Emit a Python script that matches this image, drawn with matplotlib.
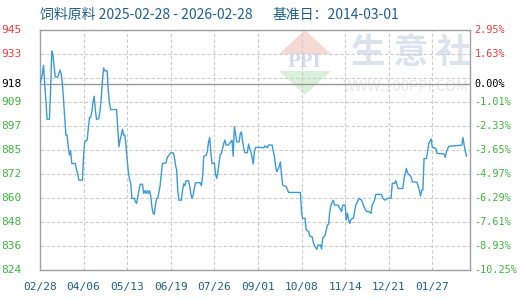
import numpy as np
import matplotlib
matplotlib.use('Agg')
import matplotlib.pyplot as plt
from matplotlib.patches import Polygon

plt.rcParams['font.family'] = ['Noto Sans CJK SC', 'DejaVu Sans']

# 天数 (自 2025-02-28 起) 与价格
days = [0, 2, 3, 4, 5, 6, 8, 9, 10, 11, 12, 13, 15, 16, 17, 18, 19, 20, 21, 22,
        23, 24, 25, 26, 27, 30, 31, 32, 33, 36, 37, 38, 40, 41, 42, 43, 44, 45, 46, 47,
        48, 50, 51, 52, 53, 54, 55, 57, 58, 59, 60, 65, 66, 67, 68, 69, 70, 71, 72, 73,
        74, 75, 76, 77, 78, 80, 81, 82, 83, 84, 85, 87, 88, 89, 90, 91, 92, 93, 94, 95,
        96, 97, 98, 99, 100, 101, 102, 103, 104, 107, 108, 110, 111, 113, 114, 115, 116, 117, 118, 120,
        121, 122, 123, 124, 126, 127, 128, 129, 130, 131, 132, 136, 137, 138, 139, 141, 142, 143, 144, 145,
        146, 148, 149, 150, 151, 152, 153, 154, 155, 156, 157, 158, 160, 163, 164, 165, 166, 167, 169, 170,
        171, 172, 173, 174, 176, 177, 178, 179, 180, 181, 182, 183, 187, 190, 191, 193, 194, 197, 198, 199,
        200, 201, 202, 203, 204, 205, 206, 209, 211, 221, 222, 223, 225, 226, 228, 229, 231, 232, 234, 235,
        236, 238, 239, 240, 242, 243, 244, 245, 246, 247, 249, 250, 253, 256, 257, 259, 260, 261, 262, 263,
        264, 266, 267, 268, 270, 271, 273, 275, 277, 279, 281, 282, 284, 285, 290, 291, 293, 295, 298, 299,
        301, 302, 304, 308, 309, 310, 311, 312, 313, 315, 316, 320, 322, 323, 324, 325, 326, 328, 329, 330,
        332, 333, 336, 337, 343, 344, 345, 347, 358, 359, 360, 361, 362]
prices = [918.0, 922.7, 927.2, 918.0, 908.7, 900.0, 900.0, 915.1, 934.4, 932.3, 926.4, 921.3, 921.3, 923.0, 924.7, 923.0, 918.0, 909.6, 900.4, 892.0,
          892.0, 886.1, 881.9, 884.0, 877.7, 877.7, 874.4, 872.7, 869.3, 869.3, 881.9, 888.6, 889.5, 895.4, 900.9, 901.0, 903.7, 908.7, 911.6, 904.6,
          899.9, 900.4, 904.6, 910.5, 919.7, 925.9, 924.4, 924.4, 913.8, 908.2, 904.9, 904.9, 895.7, 886.1, 889.5, 892.0, 894.9, 892.0, 892.0, 887.0,
          879.4, 873.5, 869.7, 867.7, 860.1, 860.1, 858.4, 857.6, 860.9, 864.3, 867.2, 867.2, 862.6, 864.0, 862.6, 864.0, 862.6, 864.0, 861.3, 855.9,
          852.6, 852.1, 856.7, 860.1, 860.4, 863.4, 866.8, 872.7, 877.7, 878.0, 880.8, 882.3, 883.1, 883.1, 881.1, 876.9, 874.4, 863.4, 859.2, 859.2,
          864.3, 867.4, 866.5, 869.0, 869.0, 866.5, 862.6, 860.1, 861.8, 865.1, 868.0, 868.0, 866.5, 871.0, 881.4, 881.9, 883.6, 888.1, 890.8, 883.6,
          877.7, 877.9, 872.3, 870.2, 873.5, 877.7, 882.3, 882.8, 885.3, 887.8, 889.5, 887.0, 887.0, 889.5, 881.4, 896.2, 892.8, 888.6, 888.6, 892.8,
          893.6, 888.6, 885.3, 883.1, 883.1, 887.5, 885.3, 883.6, 881.1, 877.4, 883.6, 885.8, 885.8, 885.6, 886.6, 885.6, 887.0, 887.0, 883.9, 881.4,
          876.1, 873.5, 874.9, 876.1, 878.5, 872.2, 866.8, 866.0, 863.1, 863.1, 853.1, 850.0, 850.0, 844.2, 843.4, 841.1, 840.7, 837.8, 835.2, 834.4,
          836.6, 836.6, 834.6, 840.0, 841.6, 844.2, 846.7, 847.2, 853.5, 856.7, 859.2, 856.7, 856.7, 853.5, 856.7, 856.7, 849.2, 852.6, 849.2, 847.5,
          849.6, 850.1, 853.5, 856.7, 859.2, 860.1, 859.2, 855.9, 853.5, 853.5, 852.6, 856.7, 859.2, 862.1, 862.1, 860.1, 859.2, 860.1, 860.1, 867.7,
          867.7, 869.0, 865.1, 865.1, 870.2, 872.3, 875.2, 873.0, 872.3, 871.0, 868.5, 868.2, 864.3, 861.3, 864.3, 864.3, 880.2, 880.2, 883.6, 887.8,
          890.1, 885.8, 885.3, 882.8, 882.5, 880.8, 883.6, 886.4, 886.9, 890.8, 887.0, 884.0, 881.4]

base = 918.0
ymin, ymax = 824.0, 945.0
left_labels = ['945', '933', '', '909', '897', '885', '872', '860', '848', '836', '824']
right_labels = ['2.95%', '1.63%', '', '-1.01%', '-2.33%', '-3.65%', '-4.97%',
                '-6.29%', '-7.61%', '-8.93%', '-10.25%']
xtick_days = [0, 37, 74, 111, 148, 185, 222, 259, 296, 333]
xtick_labels = ['02/28', '04/06', '05/13', '06/19', '07/26', '09/01', '10/08', '11/14', '12/21', '01/27']

RED = '#f03a3a'
GREEN = '#3cb43c'
BLUE = '#1f5f8b'
mono = 'DejaVu Sans Mono'

fig = plt.figure(figsize=(5.2, 3.0), dpi=100)
ax = fig.add_axes([40 / 520, 30 / 300, 430 / 520, 240 / 300])
ax.set_xlim(0, 365)
ax.set_ylim(ymin, ymax)

# 水印 (画在坐标区内)
ta = ax.transAxes
ax.add_patch(Polygon([(0.616, 1.0), (0.556, 0.9), (0.677, 0.9)], closed=True, transform=ta,
                     fc='#f7d9d4', ec='none', zorder=0))
ax.add_patch(Polygon([(0.556, 0.829), (0.677, 0.829), (0.616, 0.73)], closed=True, transform=ta,
                     fc='#d9f0d9', ec='none', zorder=0))
ax.text(0.616, 0.866, 'PPI', color='#d3dcea', fontsize=15, fontweight='bold', transform=ta,
        ha='center', va='center', family='Liberation Serif', zorder=0, clip_on=True)
ax.text(0.862, 0.908, '生 意 社', color='#dde3ee', fontsize=25, fontweight='bold', transform=ta,
        ha='center', va='center', zorder=0, clip_on=True)
ax.text(0.85, 0.7625, 'WWW.100PPI.COM', color='#e8e8e8', fontsize=10.5, transform=ta,
        ha='center', va='center', zorder=0, clip_on=True)

ys = np.linspace(ymax, ymin, 11)
for y in ys:
    ax.axhline(y, color='#cccccc', lw=0.8, ls=(0, (3, 2)), zorder=1)
for d in xtick_days[1:]:
    ax.axvline(d, color='#cccccc', lw=0.8, ls=(0, (3, 2)), zorder=1)
ax.axhline(base, color='#999999', lw=1.0, zorder=2)

ax.plot(days, prices, color='#3b9bd8', lw=1.0, zorder=3)

for s in ax.spines.values():
    s.set_color('#a0a0a0')
    s.set_linewidth(1.0)
ax.set_xticks([])
ax.set_yticks([])

tr = ax.get_yaxis_transform()
for y, ll, rl in zip(ys, left_labels, right_labels):
    if ll:
        c = RED if y > base else GREEN
        ax.text(-0.042, y, ll, transform=tr, ha='right', va='center', fontsize=8, color=c, family=mono)
        ax.text(1.01, y, rl, transform=tr, ha='left', va='center', fontsize=7.3, color=c, family=mono)
ax.text(-0.042, base, '918', transform=tr, ha='right', va='center', fontsize=8, color='black', family=mono)
ax.text(1.01, base, '0.00%', transform=tr, ha='left', va='center', fontsize=7.3, color='black', family=mono)

trx = ax.get_xaxis_transform()
for d, lab in zip(xtick_days, xtick_labels):
    ax.text(d, -0.07, lab, transform=trx, ha='center', va='center', fontsize=8, color=BLUE, family=mono)

fig.text(40 / 520, 1 - 15 / 300, '饲料原料 2025-02-28 - 2026-02-28', color=BLUE, fontsize=10,
         ha='left', va='center')
fig.text(273 / 520, 1 - 15 / 300, '基准日：2014-03-01', color=BLUE, fontsize=10,
         ha='left', va='center')

fig.savefig('out.png', dpi=100)
